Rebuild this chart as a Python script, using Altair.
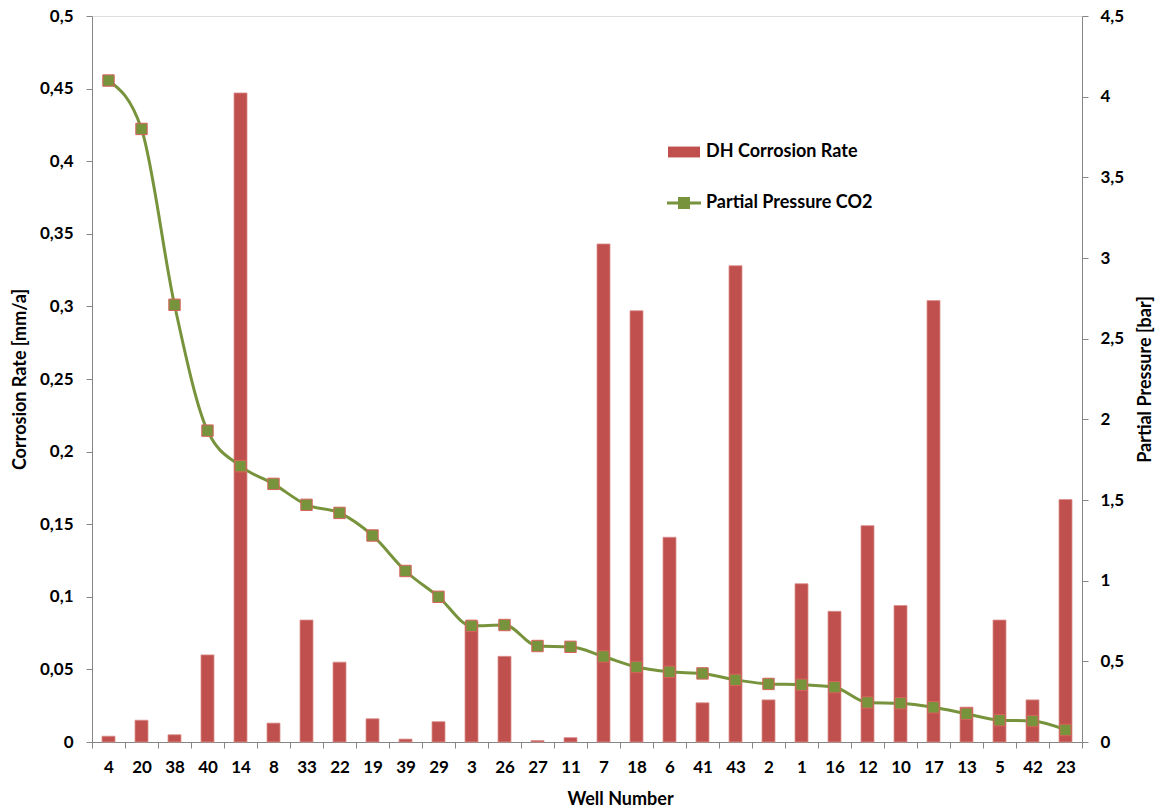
import altair as alt
import pandas as pd

# Wells sorted by CO2 partial pressure (descending)
wells = ["4", "20", "38", "40", "14", "8", "33", "22", "19", "39", "29", "3", "26", "27", "11",
         "7", "18", "6", "41", "43", "2", "1", "16", "12", "10", "17", "13", "5", "42", "23"]
# Downhole corrosion rate [mm/a]
corrosion = [0.004, 0.015, 0.005, 0.060, 0.447, 0.013, 0.084, 0.055, 0.016, 0.002, 0.014, 0.083,
             0.059, 0.001, 0.003, 0.343, 0.297, 0.141, 0.027, 0.328, 0.029, 0.109, 0.090, 0.149,
             0.094, 0.304, 0.024, 0.084, 0.029, 0.167]
# Partial pressure of CO2 [bar]
pressure = [4.10, 3.80, 2.71, 1.93, 1.71, 1.60, 1.47, 1.42, 1.28, 1.06, 0.90, 0.72, 0.725, 0.595,
            0.59, 0.53, 0.465, 0.435, 0.425, 0.385, 0.36, 0.355, 0.34, 0.245, 0.24, 0.215, 0.175,
            0.135, 0.13, 0.075]

bar_name = "DH Corrosion Rate"
line_name = "Partial Pressure CO2"

df = pd.DataFrame({
    "well": wells,
    "rate": corrosion,
    "pp": pressure,
    "bseries": bar_name,
    "lseries": line_name,
})

RED = "#C0504D"
GREEN = "#77933C"
FONT = "Lato"
TICK_FS = 17
TITLE_FS = 18
comma = "replace(format(datum.value, '~g'), '.', ',')"

x = alt.X(
    "well:N",
    sort=wells,
    scale=alt.Scale(paddingInner=0, paddingOuter=0),
    axis=alt.Axis(
        title="Well Number", labelAngle=0, tickBand="extent", tickSize=6,
        labelPadding=11, labelBaseline="top", labelFontSize=TICK_FS, labelFontWeight="bold",
        titleFontSize=TITLE_FS, titleFontWeight="bold", titleX=528, titleY=57,
        titleBaseline="middle", domainColor="#868686", tickColor="#868686",
        labelColor="black", titleColor="black",
    ),
)

base = alt.Chart(df).encode(x=x)

bars = base.mark_bar(size=13, color=RED, stroke="#DA8F8D", strokeWidth=0.8).encode(
    y=alt.Y(
        "rate:Q",
        scale=alt.Scale(domain=[0, 0.5], nice=False),
        axis=alt.Axis(
            title="Corrosion Rate [mm/a]", values=[i * 0.05 for i in range(11)],
            labelExpr=comma, grid=False, tickSize=6, labelPadding=13,
            labelFontSize=TICK_FS, labelFontWeight="bold", titleFontSize=TITLE_FS,
            titleFontWeight="bold", titleX=-72, titleY=363, titleBaseline="middle",
            titleAngle=270, domainColor="#868686", tickColor="#868686",
            labelColor="black", titleColor="black",
        ),
    ),
    color=alt.Color(
        "bseries:N",
        scale=alt.Scale(domain=[bar_name], range=[RED]),
        legend=alt.Legend(
            title=None, orient="none", legendX=576, legendY=120, padding=0,
            symbolType="M-1,-0.34H1V0.34H-1Z", symbolSize=1024, symbolStrokeWidth=0,
            labelFontSize=TITLE_FS, labelFontWeight="bold", labelOffset=6,
            labelColor="black", labelLimit=400,
        ),
    ),
)

y_right = alt.Y(
    "pp:Q",
    scale=alt.Scale(domain=[0, 4.5], nice=False),
    axis=alt.Axis(
        title="Partial Pressure [bar]", orient="right", values=[i * 0.5 for i in range(10)],
        labelExpr=comma, grid=False, tickSize=6, labelPadding=12,
        labelFontSize=TICK_FS, labelFontWeight="bold", titleFontSize=TITLE_FS,
        titleFontWeight="bold", titleX=63, titleY=363, titleBaseline="middle",
        titleAngle=270, domainColor="#868686", tickColor="#868686",
        labelColor="black", titleColor="black",
    ),
)

line = base.mark_line(color=GREEN, strokeWidth=3, interpolate="monotone").encode(y=y_right)

points = base.mark_point(
    shape="square", filled=True, size=130, stroke="#D9625E", strokeWidth=1, opacity=1
).encode(
    y=y_right,
    fill=alt.Fill(
        "lseries:N",
        scale=alt.Scale(domain=[line_name], range=[GREEN]),
        legend=alt.Legend(
            title=None, orient="none", legendX=575, legendY=170, padding=0,
            symbolType="M-1,-0.09H1V0.09H-1Z M-0.35,-0.35H0.35V0.35H-0.35Z",
            symbolSize=1156, symbolStrokeWidth=0,
            labelFontSize=TITLE_FS, labelFontWeight="bold", labelOffset=5,
            labelColor="black", labelLimit=400,
        ),
    ),
)

right = alt.layer(line, points)

chart = (
    alt.layer(bars, right)
    .resolve_scale(y="independent", color="independent", fill="independent")
    .properties(
        width=990, height=726,
        autosize=alt.AutoSizeParams(type="none"),
        padding={"left": 92, "top": 16, "right": 80, "bottom": 70},
        background="white",
    )
    .configure_view(stroke=None)
    .configure(font=FONT)
)

chart.save("out.html", embed_options={"renderer": "svg", "actions": False})
